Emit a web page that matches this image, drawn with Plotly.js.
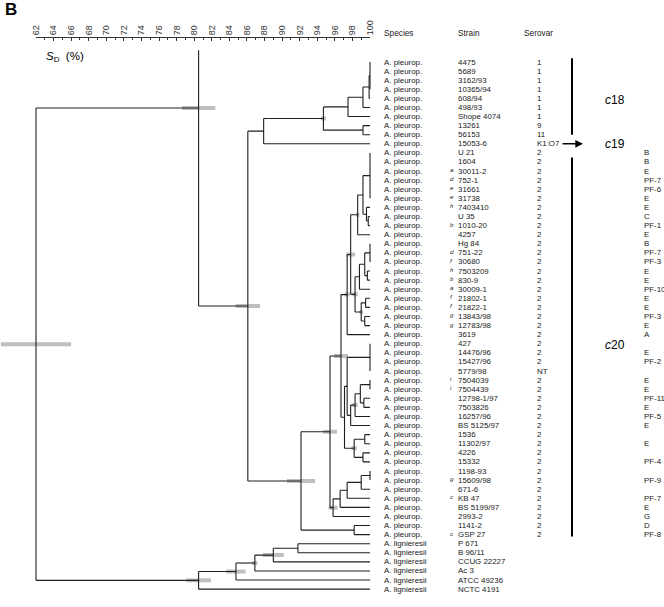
<!DOCTYPE html>
<html><head><meta charset="utf-8">
<script src="https://cdn.plot.ly/plotly-3.0.1.min.js"></script>
<style>html,body{margin:0;padding:0;background:#fff}#chart{width:664px;height:607px}</style>
</head><body><div id="chart"></div>
<script>
// ---------------- data ----------------
const species = [
 'A. pleurop.','A. pleurop.','A. pleurop.','A. pleurop.','A. pleurop.','A. pleurop.','A. pleurop.','A. pleurop.','A. pleurop.','A. pleurop.',
 'A. pleurop.','A. pleurop.','A. pleurop.','A. pleurop.','A. pleurop.','A. pleurop.','A. pleurop.','A. pleurop.','A. pleurop.','A. pleurop.',
 'A. pleurop.','A. pleurop.','A. pleurop.','A. pleurop.','A. pleurop.','A. pleurop.','A. pleurop.','A. pleurop.','A. pleurop.','A. pleurop.',
 'A. pleurop.','A. pleurop.','A. pleurop.','A. pleurop.','A. pleurop.','A. pleurop.','A. pleurop.','A. pleurop.','A. pleurop.','A. pleurop.',
 'A. pleurop.','A. pleurop.','A. pleurop.','A. pleurop.','A. pleurop.','A. pleurop.','A. pleurop.','A. pleurop.','A. pleurop.','A. pleurop.',
 'A. pleurop.','A. pleurop.','A. pleurop.',
 'A. lignieresii','A. lignieresii','A. lignieresii','A. lignieresii','A. lignieresii','A. lignieresii'];
const strains = [
 '4475','5689','3162/93','10365/94','608/94','498/93','Shope 4074','13261','56153','15053-6',
 'U 21','1604','30011-2','752-1','31661','31738','7403410','U 35','1010-20','4257',
 'Hg 84','751-22','30680','7503209','830-9','30009-1','21802-1','21822-1','13843/98','12783/98',
 '3619','427','14476/96','15427/96','5779/98','7504039','7504439','12798-1/97','7503826','16257/96',
 'BS 5125/97','1536','11302/97','4226','15332','1198-93','15609/98','671-6','KB 47','BS 5199/97',
 '2993-2','1141-2','GSP 27',
 'P 671','B 96/11','CCUG 22227','Ac 3','ATCC 49236','NCTC 4191'];
const strainMarks = [
 '','','','','','','','','','',
 '','','a','d','e','e','h','','b','',
 '','d','f','h','b','a','f','f','g','g',
 '','','','','','i','i','','','',
 '','','','','','','g','','c','',
 '','','c',
 '','','','','',''];
const serovars = [
 '1','1','1','1','1','1','1','9','11','K1:O7',
 '2','2','2','2','2','2','2','2','2','2',
 '2','2','2','2','2','2','2','2','2','2',
 '2','2','2','2','NT','2','2','2','2','2',
 '2','2','2','2','2','2','2','2','2','2',
 '2','2','2',
 '','','','','',''];
const types = [
 '','','','','','','','','','',
 'B','B','E','PF-7','PF-6','E','E','C','PF-1','E',
 'B','PF-7','PF-3','E','E','PF-10','E','E','PF-3','E',
 'A','','E','PF-2','','E','E','PF-11','E','PF-5',
 'E','','E','','PF-4','','PF-9','','PF-7','E',
 'G','D','PF-8',
 '','','','','',''];
const headers = ['Species','Strain','Serovar'];
const clusterNames = ['c18','c19','c20'];
const clusterLabelRows = [5.2, 10, 32.1];
const clusterBarRows = [[0.6, 9.0], null, [11.5, 53.2]];
const axisTicks = [62,64,66,68,70,72,74,76,78,80,82,84,86,88,90,92,94,96,98,100];

// dendrogram: n(similarity %, sd, children...) ; leaves = row numbers
function n(s, sd, ...c){ return {s, sd, c}; }
// serovar 1 / 9 / 11 and K1:O7
const nJ = n(100, 0, 1, 2, 3, 4);
const nI = n(99.9, 0, nJ, 5);
const nH = n(99.2, 0, nI, 6);
const nE = n(97.5, 0, nH, 7);
const nF = n(99.2, 0, 8, 9);
const nD = n(94.7, 0.3, nE, nF);
const nC = n(87.9, 0, nD, 10);
// serovar 2
const k1 = n(100, 0, 11, 12, 13, 14, 15, 16);
const k2 = n(99.8, 0, 18, 19);
const k3 = n(99.6, 0, 17, k2);
const k4 = n(99.2, 0, k1, k3);
const k5 = n(98.6, 0.2, k4, 20);
const m1 = n(100, 0, 21, 22, 23);
const m2 = n(99.7, 0, 24, 25);
const m3 = n(99.4, 0, m1, m2);
const m4 = n(98.8, 0, m3, 26);
const q1 = n(99.5, 0, 27, 28);
const q2 = n(99.4, 0, 29, 30);
const q3 = n(99.0, 0.2, q1, q2);
const mx = n(98.3, 0.3, m4, q3);
const nX = n(97.8, 0.5, k5, mx);
const nS = n(97.4, 0.3, nX, 31);
const g2 = n(100, 0, 32, 33, 34, 35);
const u1 = n(100, 0, 36, 37);
const u2 = n(99.3, 0, 38, 39);
const u3 = n(98.9, 0, u1, u2);
const u4 = n(98.3, 0.3, u3, 40);
const u5 = n(97.8, 0, u4, 41);
const nV = n(97.4, 0, g2, u5);
const t1 = n(99.4, 0, 42, 43);
const t2 = n(99.2, 0, 44, 45);
const nT = n(98.2, 0.3, t1, t2);
const nW = n(97.1, 0, nV, nT);
const nR = n(96.7, 0.8, nS, nW);
const na = n(100, 0, 46, 47);
const nb = n(99.0, 0, na, 48);
const nc = n(97.4, 0, nb, 49);
const nd = n(96.6, 0, nc, 50);
const ne = n(95.8, 0.5, nd, 51);
const nQ = n(95.45, 0.8, nR, ne);
const nPP = n(98.2, 0, 52, 53);
const nP = n(92.15, 1.6, nQ, nPP);
const nB = n(86.1, 1.4, nC, nP);
const nA = Object.assign(n(80.5, 1.9, nB), {joinRow: 6.06, topRow: -0.3});
// A. lignieresii
const l5 = n(91.8, 0, 54, 55);
const l4 = n(89.0, 1.2, l5, 56);
const l3 = n(86.9, 0.3, l4, 57);
const l2 = n(84.75, 1.1, l3, 58);
const nL = n(80.5, 1.4, l2, 59);
const root = n(62, 4.0, nA, nL);

// ---------------- build ----------------
const segX = [], segY = [], barX = [], barY = [];
function place(node){
  if (typeof node === 'number') return {x: 100, y: node};
  const kids = node.c.map(place);
  const ys = kids.map(k => k.y);
  const y = node.joinRow !== undefined ? node.joinRow : ys.reduce((a, b) => a + b, 0) / ys.length;
  let y0 = Math.min(...ys), y1 = Math.max(...ys);
  if (node.topRow !== undefined) y0 = Math.min(y0, node.topRow);
  if (y1 > y0) { segX.push(node.s, node.s, null); segY.push(y0, y1, null); }
  kids.forEach(k => { if (k.x > node.s) { segX.push(node.s, k.x, null); segY.push(k.y, k.y, null); } });
  if (node.sd > 0) { barX.push(node.s - node.sd, node.s + node.sd, null); barY.push(y, y, null); }
  return {x: node.s, y};
}
place(root);

const FONT = 'Liberation Sans, Arial, sans-serif';
const pxU = 334 / 38;             // pixels per % unit
const mainEnd = 370 + 0.3 * pxU;  // right end of main axis in px
const W = 664, H = 607, TOP = 38;
const rowsVal = species.map((_, i) => i + 1);

const traces = [
  {x: barX, y: barY, xaxis: 'x', yaxis: 'y', mode: 'lines', line: {color: '#bfbfbf', width: 4}, hoverinfo: 'skip', showlegend: false},
  {x: segX, y: segY, xaxis: 'x', yaxis: 'y', mode: 'lines', line: {color: '#1e1e1e', width: 1.1}, hoverinfo: 'skip', showlegend: false},
  {x: [62, 100], y: [0, 0], xaxis: 'x2', yaxis: 'y', mode: 'markers', marker: {opacity: 0}, hoverinfo: 'skip', showlegend: false},
];
// cluster bars
const cbx = [], cby = [];
clusterBarRows.forEach(r => { if (r) { cbx.push(572, 572, null); cby.push(r[0], r[1], null); } });
traces.push({x: cbx, y: cby, xaxis: 'x3', yaxis: 'y', mode: 'lines', line: {color: '#000', width: 2}, hoverinfo: 'skip', showlegend: false});

const ann = [];
const FS = 7.9;
const tf = {family: FONT, size: FS, color: '#1a1a1a'};
rowsVal.forEach((r, i) => {
  ann.push({x: 382, y: r, xref: 'x3', yref: 'y', text: species[i], showarrow: false, xanchor: 'left', yanchor: 'middle', font: tf});
  ann.push({x: 456, y: r, xref: 'x3', yref: 'y', text: strains[i], showarrow: false, xanchor: 'left', yanchor: 'middle', font: tf});
  if (strainMarks[i]) ann.push({x: 448, y: r, xref: 'x3', yref: 'y', yshift: 1.5, text: '<i>' + strainMarks[i] + '</i>', showarrow: false, xanchor: 'left', yanchor: 'middle', font: {family: FONT, size: 6.2, color: '#1a1a1a'}});
  if (serovars[i]) ann.push({x: 535, y: r, xref: 'x3', yref: 'y', text: serovars[i], showarrow: false, xanchor: 'left', yanchor: 'middle', font: tf});
  if (types[i]) ann.push({x: 642, y: r, xref: 'x3', yref: 'y', text: types[i], showarrow: false, xanchor: 'left', yanchor: 'middle', font: tf});
});
const hdrX = [382, 456, 522];
headers.forEach((h, i) => ann.push({x: hdrX[i], y: 1 + 5 / (H - TOP), xref: 'x3', yref: 'paper', text: h, showarrow: false, xanchor: 'left', yanchor: 'middle', font: {family: FONT, size: 8.3, color: '#1a1a1a'}}));
clusterNames.forEach((c, i) => ann.push({x: 603, y: clusterLabelRows[i], xref: 'x3', yref: 'y', text: '<i>c</i>' + c.slice(1), showarrow: false, xanchor: 'left', yanchor: 'middle', font: {family: FONT, size: 12, color: '#000'}}));
ann.push({x: 583, y: 10, xref: 'x3', yref: 'y', ax: -22, ay: 0, text: '', showarrow: true, arrowhead: 2, arrowsize: 1.1, arrowwidth: 1.4, arrowcolor: '#000'});
ann.push({x: 3 / W, y: 1 + 28 / (H - TOP), xref: 'paper', yref: 'paper', text: '<b>B</b>', showarrow: false, xanchor: 'left', yanchor: 'middle', font: {family: FONT, size: 17, color: '#000'}});
ann.push({x: 44 / W, y: 1 - 19 / (H - TOP), xref: 'paper', yref: 'paper', text: '<i>S</i><sub>D</sub>  (%)', showarrow: false, xanchor: 'left', yanchor: 'middle', font: {family: FONT, size: 11.5, color: '#000'}});

const layout = {
  width: W, height: H,
  margin: {l: 0, r: 0, t: TOP, b: 0, pad: 0},
  paper_bgcolor: '#fff', plot_bgcolor: 'rgba(0,0,0,0)',
  showlegend: false,
  xaxis: {domain: [0, mainEnd / W], range: [62 - 36 / pxU, 100.3], visible: false, fixedrange: true},
  xaxis2: {domain: [36 / W, 370 / W], range: [62, 100], anchor: 'y', side: 'top',
    showline: true, linecolor: '#333', linewidth: 1, ticks: 'inside', ticklen: 3, tickwidth: 1, tickcolor: '#333',
    tickmode: 'array', tickvals: axisTicks, ticktext: axisTicks.map(String), tickangle: -90,
    tickfont: {family: FONT, size: 9, color: '#333'}, showgrid: false, zeroline: false,
    minor: {dtick: 1, ticks: 'inside', ticklen: 2, tickcolor: '#333', showgrid: false}},
  xaxis3: {domain: [mainEnd / W, 1], range: [mainEnd, W], anchor: 'y', visible: false, fixedrange: true},
  yaxis: {domain: [0, 1], range: [1 + (H - 62) / 9.089, 1 - (62 - TOP) / 9.089], visible: false, fixedrange: true},
  annotations: ann,
};
Plotly.newPlot('chart', traces, layout, {staticPlot: true, displayModeBar: false});
</script>
</body></html>
